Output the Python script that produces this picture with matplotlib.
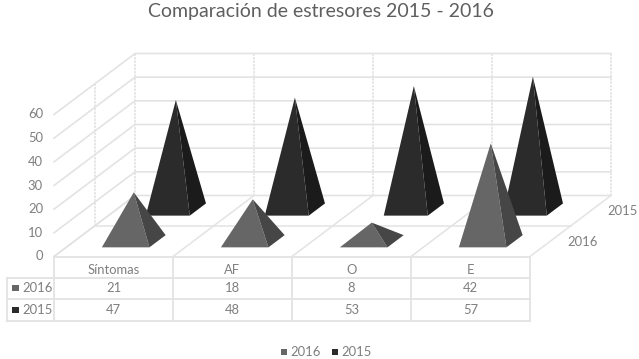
import matplotlib.pyplot as plt
from matplotlib.patches import Polygon, Rectangle

plt.rcParams["font.family"] = "Lato"

categories = ["Síntomas", "AF", "O", "E"]
values_2016 = [21, 18, 8, 42]
values_2015 = [47, 48, 53, 57]
y_ticks = [0, 10, 20, 30, 40, 50, 60]

# chart frame, in pixels of the 639x359 picture
X0, Y0 = 54, 256.5
CAT_W = 119
DEPTH_X, DEPTH_Y = 81, 61
UNIT = 142 / 60
BAR_UNIT = 2.33

GRID = "#e3e3e3"
TEXT = "#7f7f7f"
COL_2016 = ("#666666", "#464646")
COL_2015 = ("#2b2b2b", "#1b1b1b")
FS = 9.4


def project(cat, depth, value=0, unit=UNIT):
    return (X0 + cat * CAT_W + depth * DEPTH_X, Y0 - depth * DEPTH_Y - value * unit)


def pyramid(ax, cat_idx, depth_mid, value, colors, half_w):
    half_d = 0.1
    c = cat_idx + 0.5
    fl = project(c - half_w, depth_mid - half_d)
    fr = project(c + half_w, depth_mid - half_d)
    br = project(c + half_w, depth_mid + half_d)
    apex = project(c, depth_mid, value, BAR_UNIT)
    ax.add_patch(Polygon([fl, fr, apex], closed=True, fc=colors[0], ec="none", zorder=4))
    ax.add_patch(Polygon([fr, br, apex], closed=True, fc=colors[1], ec="none", zorder=4))


fig = plt.figure(figsize=(6.39, 3.59), dpi=100)
ax = fig.add_axes([0, 0, 1, 1])
ax.set_xlim(0, 639)
ax.set_ylim(359, 0)
ax.axis("off")

n = len(categories)

# walls
for v in y_ticks:
    a = project(0, 0, v)
    b = project(0, 1, v)
    c = project(n, 1, v)
    ax.plot([a[0], b[0], c[0]], [a[1], b[1], c[1]], color=GRID, lw=1.2, zorder=1)
    ax.text(a[0] - 11, a[1], str(v), ha="right", va="center", fontsize=FS, color=TEXT)

for i in range(n + 1):
    a = project(i, 1, 0)
    b = project(i, 1, 60)
    ax.plot([a[0], b[0]], [a[1], b[1]], color=GRID, lw=1.2, ls=(0, (1.5, 0.6)), zorder=1)
    f = project(i, 0)
    ax.plot([f[0], a[0]], [f[1], a[1]], color=GRID, lw=1.1, zorder=1)

a = project(0, 0.5, 0)
b = project(0, 0.5, 60)
ax.plot([a[0], b[0]], [a[1], b[1]], color=GRID, lw=1.2, ls=(0, (1.5, 0.6)), zorder=1)
c = project(n, 0.5)
ax.plot([a[0], c[0]], [a[1], c[1]], color=GRID, lw=1.1, zorder=1)

for label, depth in [("2016", 0.25), ("2015", 0.75)]:
    p = project(n, depth)
    ax.text(p[0] + 32, p[1] + 0.5, label, ha="center", va="center", fontsize=FS, color=TEXT)

# pyramids, back row first
for i in range(n):
    pyramid(ax, i, 0.77, values_2015[i], COL_2015, 0.185)
for i in range(n):
    pyramid(ax, i, 0.25, values_2016[i], COL_2016, 0.2)

# data table
row_y = [Y0, 277.5, 299, 321]
x_right = X0 + n * CAT_W
ax.plot([X0, x_right], [row_y[0], row_y[0]], color=GRID, lw=1.3, zorder=2)
for y in row_y[1:]:
    ax.plot([7, x_right], [y, y], color=GRID, lw=1.3, zorder=2)
ax.plot([7, 7], [row_y[1], row_y[3]], color=GRID, lw=1.3, zorder=2)
for i in range(n + 1):
    x = X0 + i * CAT_W
    ax.plot([x, x], [row_y[0], row_y[3]], color=GRID, lw=1.3, zorder=2)

for i, name in enumerate(categories):
    x = X0 + (i + 0.5) * CAT_W
    ax.text(x, 270, name, ha="center", va="center", fontsize=FS, color=TEXT)
    ax.text(x, 288, str(values_2016[i]), ha="center", va="center", fontsize=FS, color=TEXT)
    ax.text(x, 310, str(values_2015[i]), ha="center", va="center", fontsize=FS, color=TEXT)

for y, label, col in [(288, "2016", COL_2016[0]), (310, "2015", COL_2015[0])]:
    ax.add_patch(Rectangle((11.5, y - 3), 7, 6, fc=col, ec="none"))
    ax.text(22, y, label, ha="left", va="center", fontsize=FS, color=TEXT)

# legend
for x, label, col in [(281, "2016", COL_2016[0]), (332, "2015", COL_2015[0])]:
    ax.add_patch(Rectangle((x, 348.5), 6, 6, fc=col, ec="none"))
    ax.text(x + 9, 351.5, label, ha="left", va="center", fontsize=FS, color=TEXT)

ax.text(321, 11, "Comparación de estresores 2015 - 2016", ha="center", va="center",
        fontsize=14, color="#5f5f5f")

plt.savefig("out.png", dpi=100)
